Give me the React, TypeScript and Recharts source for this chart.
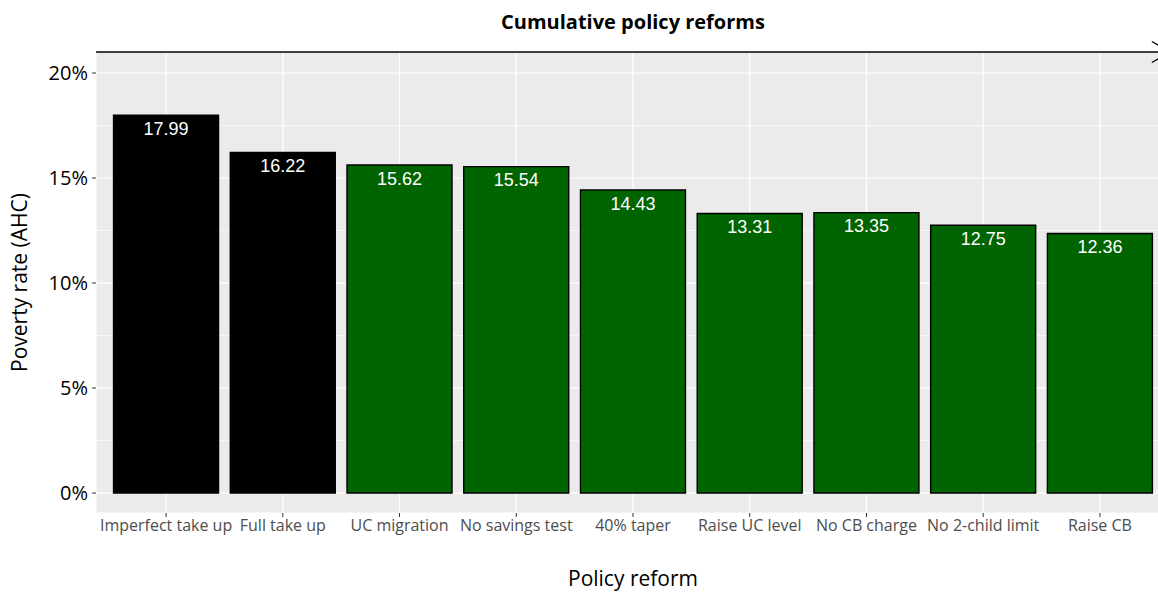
import React from 'react';
import { BarChart, Bar, XAxis, YAxis, CartesianGrid, ReferenceLine, LabelList, Cell, Label } from 'recharts';

const reforms = [
  'Imperfect take up',
  'Full take up',
  'UC migration',
  'No savings test',
  '40% taper',
  'Raise UC level',
  'No CB charge',
  'No 2-child limit',
  'Raise CB',
];
const povertyRates = [17.99, 16.22, 15.62, 15.54, 14.43, 13.31, 13.35, 12.75, 12.36];
const isBaseline = [true, true, false, false, false, false, false, false, false];
const yTicks = [0, 5, 10, 15, 20];
const yMinorTicks = [2.5, 7.5, 12.5, 17.5];
const yDomain = [-0.95, 21];

const data = reforms.map((name, i) => ({
  name,
  rate: povertyRates[i],
  fill: isBaseline[i] ? '#000000' : '#006400',
}));

const AXIS_FONT = '"Open Sans", sans-serif';

// top arrow line (drawn along the top of the panel)
const ArrowLine = (props: any) => {
  const { x1, y1, x2, y2 } = props;
  const len = 21;
  const ang = Math.PI / 6;
  return (
    <g>
      <line x1={x1} y1={y1} x2={x2} y2={y2} stroke="#000" strokeWidth={1.3} />
      <line x1={x2} y1={y2} x2={x2 - len * Math.cos(ang)} y2={y2 - len * Math.sin(ang)} stroke="#000" strokeWidth={1.3} />
      <line x1={x2} y1={y2} x2={x2 - len * Math.cos(ang)} y2={y2 + len * Math.sin(ang)} stroke="#000" strokeWidth={1.3} />
    </g>
  );
};

const YTitle = (props: any) => {
  const { viewBox } = props;
  const cy = viewBox.y + viewBox.height / 2;
  return (
    <text x={27} y={cy} transform={`rotate(-90, 27, ${cy})`} textAnchor="middle"
      fontFamily={AXIS_FONT} fontSize={21} fill="#000">
      Poverty rate (AHC)
    </text>
  );
};

// minor gridlines, placed through the y scale (fallback: linear map of the domain)
const minorLines = ({ yAxis, offset }: any) =>
  yMinorTicks.map(t => {
    if (yAxis && typeof yAxis.scale === 'function') return yAxis.scale(t);
    return offset.top + ((yDomain[1] - t) / (yDomain[1] - yDomain[0])) * offset.height;
  });

export default function App() {
  return (
    <div style={{ position: 'fixed', left: 0, top: 0, width: 1158, height: 592, overflow: 'hidden', background: '#fff' }}>
      <div style={{
        position: 'absolute', left: 96, width: 1074, top: 8, textAlign: 'center',
        fontFamily: AXIS_FONT, fontWeight: 700, fontSize: 20, color: '#000',
      }}>
        Cumulative policy reforms
      </div>
      <BarChart
        width={1170}
        height={592}
        data={data}
        margin={{ top: 52, right: 0, bottom: 0, left: 0 }}
        barCategoryGap="5%"
      >
        <CartesianGrid fill="#EBEBEB" stroke="#FFFFFF" strokeWidth={1.2} />
        <CartesianGrid vertical={false} fill="none" stroke="#FFFFFF" strokeWidth={0.6}
          horizontalCoordinatesGenerator={minorLines} />
        <XAxis
          dataKey="name"
          height={79}
          padding={{ left: 11.7, right: 11.7 }}
          axisLine={false}
          tickLine={{ stroke: '#333333' }}
          tickSize={4}
          tickMargin={3}
          interval={0}
          tick={{ fill: '#4D4D4D', fontSize: 16, fontFamily: AXIS_FONT }}
        >
          <Label value="Policy reform" position="insideBottom" offset={6}
            style={{ fontFamily: AXIS_FONT, fontSize: 21, fill: '#000' }} />
        </XAxis>
        <YAxis
          width={96}
          domain={yDomain}
          allowDataOverflow
          ticks={yTicks}
          tickFormatter={(v: number) => `${v}%`}
          axisLine={false}
          tickLine={{ stroke: '#333333' }}
          tickSize={4}
          tickMargin={4}
          tick={{ fill: '#000', fontSize: 20, fontFamily: AXIS_FONT }}
        >
          <Label content={<YTitle />} />
        </YAxis>
        <ReferenceLine y={21} shape={<ArrowLine />} />
        <Bar dataKey="rate" stroke="#000" strokeWidth={1.4} isAnimationActive={false}>
          {data.map((d, i) => (
            <Cell key={i} fill={d.fill} />
          ))}
          <LabelList dataKey="rate" position="insideTop" offset={7}
            style={{ fill: '#fff', fontSize: 18, fontFamily: '"Liberation Sans", Arial, sans-serif' }} />
        </Bar>
      </BarChart>
    </div>
  );
}
